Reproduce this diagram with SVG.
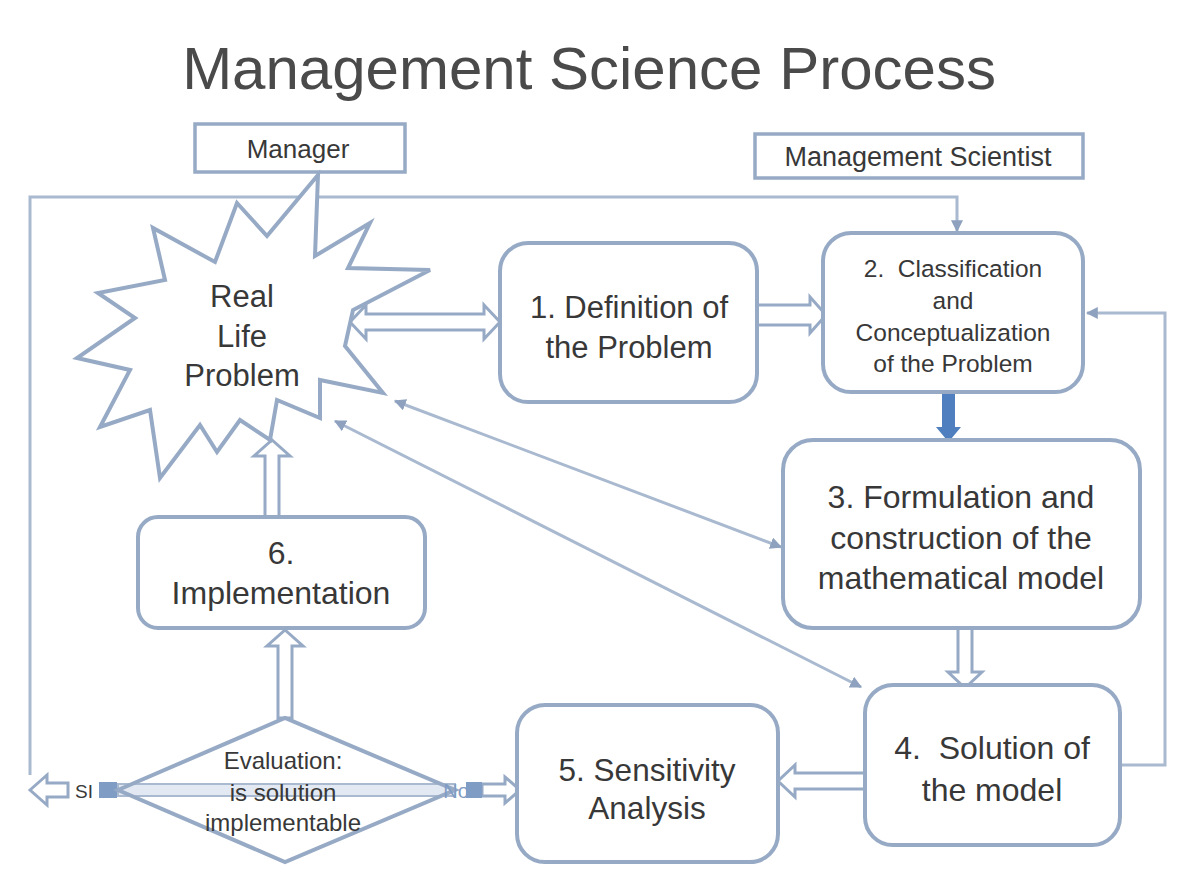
<svg xmlns="http://www.w3.org/2000/svg" width="1180" height="885" viewBox="0 0 1180 885">
<defs>
<style>
.box{fill:#fff;stroke:#97aac5;stroke-width:4}
.lbl{fill:#fff;stroke:#97aac5;stroke-width:3.5}
.t{font-family:"Liberation Sans",Arial,sans-serif;fill:#383838;text-anchor:middle}
.ha{fill:#fff;stroke:#97aac5;stroke-width:3;stroke-linejoin:miter}
.thin{fill:none;stroke:#a9b9cf;stroke-width:3}
</style>
<marker id="ah" viewBox="0 0 10 10" refX="9" refY="5" markerWidth="4" markerHeight="4" orient="auto-start-reverse">
<path d="M0,0 L10,5 L0,10 z" fill="#8ea2c0"/>
</marker>
</defs>
<rect width="1180" height="885" fill="#fff"/>
<text class="t" x="589" y="89" font-size="60" style="fill:#4a4a4a">Management Science Process</text>

<g id="connectors">
<path class="thin" d="M30,775 V197 H957 V231" marker-end="url(#ah)"/>
<path class="thin" d="M1121,765 H1165 V313 H1087" marker-end="url(#ah)"/>
<line class="thin" x1="395" y1="401" x2="781" y2="547" marker-start="url(#ah)" marker-end="url(#ah)"/>
<line class="thin" x1="335" y1="421" x2="861" y2="687" marker-start="url(#ah)" marker-end="url(#ah)"/>
<polygon class="ha" points="350,322 366,305 366,314 484,314 484,305 500,322 484,339 484,330 366,330 366,339"/>
<polygon class="ha" points="757,305 810,305 810,297 826,315 810,333 810,325 757,325"/>
<polygon fill="#4f7fbf" points="942,393 955,393 955,427 961,427 948.5,442 936,427 942,427"/>
<polygon class="ha" points="958,628 972,628 972,672 982,672 965,688 948,672 958,672"/>
<polygon class="ha" points="865,773 795,773 795,765 778,781 795,797 795,789 865,789"/>
<polygon class="ha" points="265,517 279,517 279,456 290,456 272,440 254,456 265,456"/>
<polygon class="ha" points="278,718 292,718 292,646 303,646 285,630 267,646 278,646"/>
<rect x="118" y="784" width="337" height="12" fill="#e3e9f2" stroke="#a9b9cf" stroke-width="2"/>
<polygon class="ha" points="482,784 505,784 505,777 520,790 505,803 505,796 482,796"/>
<polygon class="ha" points="30,790 47,775 47,783 68,783 68,797 47,797 47,805"/>
<rect x="99" y="782" width="18" height="16" fill="#7f9cc4"/>
<rect x="466" y="782" width="16" height="16" fill="#7f9cc4"/>
</g>

<g id="manager">
<rect class="lbl" x="195" y="124" width="210" height="48"/>
<text class="t" x="298" y="158" font-size="26">Manager</text>
</g>
<g id="management-scientist">
<rect class="lbl" x="755" y="134" width="328" height="44"/>
<text class="t" x="918" y="166" font-size="27">Management Scientist</text>
</g>

<g id="real-life-problem">
<polygon class="box" stroke-linejoin="miter" points="237,203 267,236 318,175 315,256 370,223 348,268 430,270 353,310 345,346 383,393 320,380 320,418 277,400 270,440 240,420 217,452 200,425 160,478 150,410 100,427 130,370 77,358 135,318 98,293 165,280 153,228 215,262"/>
<text class="t" x="242" y="307" font-size="31">Real</text>
<text class="t" x="242" y="347" font-size="31">Life</text>
<text class="t" x="242" y="386" font-size="31">Problem</text>
</g>

<g id="step1">
<rect class="box" x="500" y="243" width="257" height="159" rx="28"/>
<text class="t" x="629" y="318" font-size="31">1. Definition of</text>
<text class="t" x="629" y="358" font-size="31">the Problem</text>
</g>

<g id="step2">
<rect class="box" x="823" y="233" width="260" height="159" rx="28"/>
<text class="t" x="953" y="277" font-size="24.5" xml:space="preserve">2.  Classification</text>
<text class="t" x="953" y="309" font-size="24.5">and</text>
<text class="t" x="953" y="341" font-size="24.5">Conceptualization</text>
<text class="t" x="953" y="372" font-size="24.5">of the Problem</text>
</g>

<g id="step3">
<rect class="box" x="783" y="440" width="357" height="188" rx="30"/>
<text class="t" x="961" y="508" font-size="32">3. Formulation and</text>
<text class="t" x="961" y="549" font-size="32">construction of the</text>
<text class="t" x="961" y="589" font-size="32">mathematical model</text>
</g>

<g id="step4">
<rect class="box" x="865" y="685" width="255" height="160" rx="28"/>
<text class="t" x="992" y="759" font-size="32" xml:space="preserve">4.  Solution of</text>
<text class="t" x="992" y="801" font-size="32">the model</text>
</g>

<g id="step5">
<rect class="box" x="517" y="705" width="261" height="157" rx="28"/>
<text class="t" x="647" y="781" font-size="31.5">5. Sensitivity</text>
<text class="t" x="647" y="819" font-size="31.5">Analysis</text>
</g>

<g id="step6">
<rect class="box" x="138" y="517" width="287" height="111" rx="20"/>
<text class="t" x="281" y="564" font-size="32">6.</text>
<text class="t" x="281" y="604" font-size="32">Implementation</text>
</g>

<g id="evaluation">
<polygon class="box" style="fill:none" points="118,790 285,718 455,790 285,862"/>
<text class="t" x="283" y="769" font-size="24">Evaluation:</text>
<text class="t" x="283" y="801" font-size="24">is solution</text>
<text class="t" x="283" y="831" font-size="24">implementable</text>
<text class="t" x="84" y="798" font-size="19">SI</text>
<text class="t" x="456" y="798" font-size="20" style="fill:#7f9cc4">No</text>
</g>
</svg>
